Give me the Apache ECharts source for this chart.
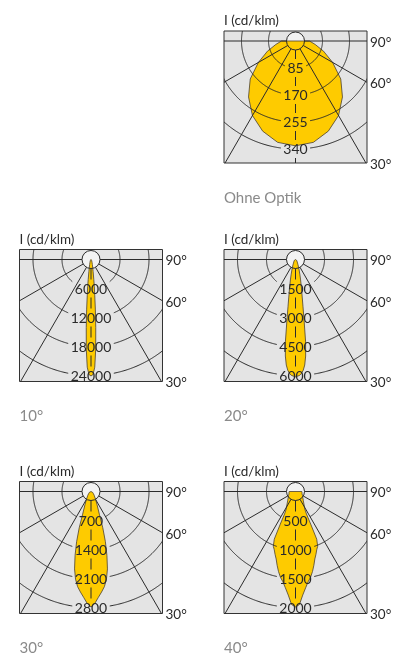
<!DOCTYPE html>
<html><head><meta charset="utf-8">
<script src="https://cdn.jsdelivr.net/npm/echarts@6/dist/echarts.min.js"></script>
<style>html,body{margin:0;padding:0;background:#fff}#c{width:396px;height:653px}</style>
</head><body><div id="c"></div>
<script>
// ---------- DATA (angle from nadir in degrees, intensity in cd/klm) ----------
const anglesOhne = [0, 10, 20, 30, 40, 50, 60, 70, 80, 90];
const valuesOhne = [330, 324, 302, 271, 230, 186, 135, 94, 63, 44];
const ticksOhne = [85, 170, 255, 340];

const angles10 = [0, 1, 2, 3, 4, 5, 6, 7, 8, 10, 12, 15, 20, 30, 45, 60, 90];
const values10 = [24100, 23800, 22300, 18600, 14100, 10300, 7450, 5600, 4150, 2500, 1650, 1050, 620, 300, 100, 40, 0];
const ticks10 = [6000, 12000, 18000, 24000];

const angles20 = [0, 2, 3, 4, 5, 6, 7, 8, 9, 10, 12, 14, 16, 20, 25, 30, 45, 60, 90];
const values20 = [6070, 6000, 5900, 5740, 5480, 5020, 4290, 3210, 2480, 2020, 1450, 1090, 830, 520, 310, 210, 100, 50, 0];
const ticks20 = [1500, 3000, 4500, 6000];

const angles30 = [0, 2, 4, 6, 8, 10, 12, 14, 16, 18, 20, 25, 30, 40, 50, 60, 90];
const values30 = [2790, 2700, 2560, 2440, 2320, 2150, 1910, 1590, 1260, 920, 600, 340, 220, 120, 70, 50, 0];
const ticks30 = [700, 1400, 2100, 2800];

const angles40 = [0, 2, 4, 6, 8, 10, 12, 14, 16, 18, 20, 22, 24, 25, 26, 28, 30, 40, 50, 60, 70, 80, 90];
const values40 = [1990, 1950, 1790, 1670, 1570, 1500, 1410, 1310, 1210, 1140, 1070, 1020, 900, 620, 430, 340, 310, 210, 165, 140, 120, 115, 110];
const ticks40 = [500, 1000, 1500, 2000];

const rayAngles = [90, 60, 30];
const rayLabels = ['90°', '60°', '30°'];
const captions = ['Ohne Optik', '10°', '20°', '30°', '40°'];
const unitLabel = 'I (cd/klm)';

// ---------- LAYOUT ----------
const layouts = [
  {left: 224, top: 31, d: 27},
  {left: 19.5, top: 249.5, d: 29},
  {left: 224, top: 249.5, d: 29},
  {left: 19.5, top: 481.5, d: 29},
  {left: 224, top: 481.5, d: 29}
];
const BOX_W = 143, BOX_H = 132, ORIGIN_DY = 10, HUB_R = 9;
const FONT = 'Lato, "Open Sans", sans-serif';
const LINE = '#2b2b2b';

const panels = [
  {angles: anglesOhne, values: valuesOhne, ticks: ticksOhne},
  {angles: angles10, values: values10, ticks: ticks10},
  {angles: angles20, values: values20, ticks: ticks20},
  {angles: angles30, values: values30, ticks: ticks30},
  {angles: angles40, values: values40, ticks: ticks40}
];

function polar(theta, r) {
  const t = theta * Math.PI / 180;
  return [r * Math.sin(t), -r * Math.cos(t)];
}

const grids = [], xAxes = [], yAxes = [], series = [], graphics = [];

panels.forEach((p, i) => {
  const L = layouts[i];
  const step = p.ticks[1] - p.ticks[0];
  const upp = step / L.d;
  grids.push({left: L.left, top: L.top, width: BOX_W, height: BOX_H, show: true,
    backgroundColor: '#e4e4e4', borderColor: '#333', borderWidth: 1});
  xAxes.push({gridIndex: i, type: 'value', show: false, min: -BOX_W / 2 * upp, max: BOX_W / 2 * upp});
  yAxes.push({gridIndex: i, type: 'value', show: false, min: -(BOX_H - ORIGIN_DY) * upp, max: ORIGIN_DY * upp});

  // curve points (mirrored)
  const pts = [];
  for (let k = p.angles.length - 1; k >= 1; k--) pts.push(polar(-p.angles[k], p.values[k]));
  for (let k = 0; k < p.angles.length; k++) pts.push(polar(p.angles[k], p.values[k]));

  const base = {type: 'custom', xAxisIndex: i, yAxisIndex: i, data: [[0, 0]], silent: true, animation: false};

  // hub fill
  series.push(Object.assign({}, base, {z: 1, renderItem: (params, api) => {
    const o = api.coord([0, 0]);
    return {type: 'circle', shape: {cx: o[0], cy: o[1], r: HUB_R}, style: {fill: '#f3f3f3'}};
  }}));

  // luminous intensity curve
  series.push(Object.assign({}, base, {z: 2, renderItem: (params, api) => {
    return {type: 'polygon', shape: {points: pts.map(q => api.coord(q))},
      style: {fill: '#fecb00', stroke: '#4a4030', lineWidth: 0.8}};
  }}));

  // grid lines
  series.push(Object.assign({}, base, {z: 3, renderItem: (params, api) => {
    const cs = params.coordSys;
    const o = api.coord([0, 0]);
    const ppu = (api.coord([step, 0])[0] - o[0]) / step;
    const st = {stroke: LINE, lineWidth: 1, fill: null};
    const ch = [];
    ch.push({type: 'line', shape: {x1: cs.x, y1: o[1], x2: o[0] - HUB_R, y2: o[1]}, style: st});
    ch.push({type: 'line', shape: {x1: o[0] + HUB_R, y1: o[1], x2: cs.x + cs.width, y2: o[1]}, style: st});
    [30, 60, -30, -60].forEach(a => {
      const t = a * Math.PI / 180, sx = Math.sin(t), sy = Math.cos(t);
      ch.push({type: 'line', shape: {x1: o[0] + HUB_R * sx, y1: o[1] + HUB_R * sy,
        x2: o[0] + 400 * sx, y2: o[1] + 400 * sy}, style: st});
    });
    const fs = 14;
    p.ticks.forEach(t => {
      const R = t * ppu;
      const hw = String(t).length * 0.58 * fs / 2 + 2.5;
      const al = Math.asin(Math.min(0.999, hw / R));
      const poly = [];
      for (let f = al; f <= 2 * Math.PI - al + 1e-6; f += 0.01) poly.push([o[0] + R * Math.sin(f), o[1] + R * Math.cos(f)]);
      poly.push([o[0] + R * Math.sin(2 * Math.PI - al), o[1] + R * Math.cos(2 * Math.PI - al)]);
      ch.push({type: 'polyline', shape: {points: poly}, style: st});
    });
    // dashes on the nadir axis between labels
    const radii = [0].concat(p.ticks.map(t => t * ppu));
    const dl = L.d - 18;
    for (let k = 0; k < radii.length; k++) {
      const mid = k < radii.length - 1 ? (radii[k] + radii[k + 1]) / 2 : radii[k] + L.d / 2;
      const a = Math.max(HUB_R, mid - dl / 2), b = mid + dl / 2;
      ch.push({type: 'line', shape: {x1: o[0], y1: o[1] + a, x2: o[0], y2: o[1] + b}, style: st});
    }
    return {type: 'group', children: ch,
      clipPath: {type: 'rect', shape: {x: cs.x, y: cs.y, width: cs.width, height: cs.height}}};
  }}));

  // hub outline and ring labels
  series.push(Object.assign({}, base, {z: 4, renderItem: (params, api) => {
    const o = api.coord([0, 0]);
    const ch = [{type: 'circle', shape: {cx: o[0], cy: o[1], r: HUB_R}, style: {fill: null, stroke: LINE, lineWidth: 1}}];
    p.ticks.forEach(t => {
      const c = api.coord([0, -t]);
      ch.push({type: 'text', x: c[0], y: c[1] + 0.5, style: {text: String(t), fill: '#2a2a2a',
        font: '14px ' + FONT, align: 'center', verticalAlign: 'middle'}});
    });
    return {type: 'group', children: ch};
  }}));

  // angle labels at the right edge
  series.push(Object.assign({}, base, {z: 4, renderItem: (params, api) => {
    const cs = params.coordSys;
    const o = api.coord([0, 0]);
    const ch = [];
    rayAngles.forEach((a, j) => {
      let y = a === 90 ? o[1] : o[1] + (cs.width / 2) / Math.tan(a * Math.PI / 180);
      y = Math.min(y, cs.y + cs.height);
      ch.push({type: 'text', x: cs.x + cs.width + 3, y: y + 1.5, style: {text: rayLabels[j], fill: '#2a2a2a',
        font: '13.5px ' + FONT, align: 'left', verticalAlign: 'middle'}});
    });
    return {type: 'group', children: ch};
  }}));

  graphics.push({type: 'text', x: L.left, y: L.top - 10, style: {text: unitLabel, fill: '#2a2a2a',
    font: '13.5px ' + FONT, verticalAlign: 'middle'}});
  graphics.push({type: 'text', x: L.left, y: L.top + BOX_H + 35, style: {text: captions[i], fill: '#8a8a8a',
    font: '15px ' + FONT, verticalAlign: 'middle'}});
});

const chart = echarts.init(document.getElementById('c'), null, {renderer: 'canvas'});
chart.setOption({
  animation: false,
  grid: grids, xAxis: xAxes, yAxis: yAxes, series: series,
  graphic: graphics
});
</script></body></html>
